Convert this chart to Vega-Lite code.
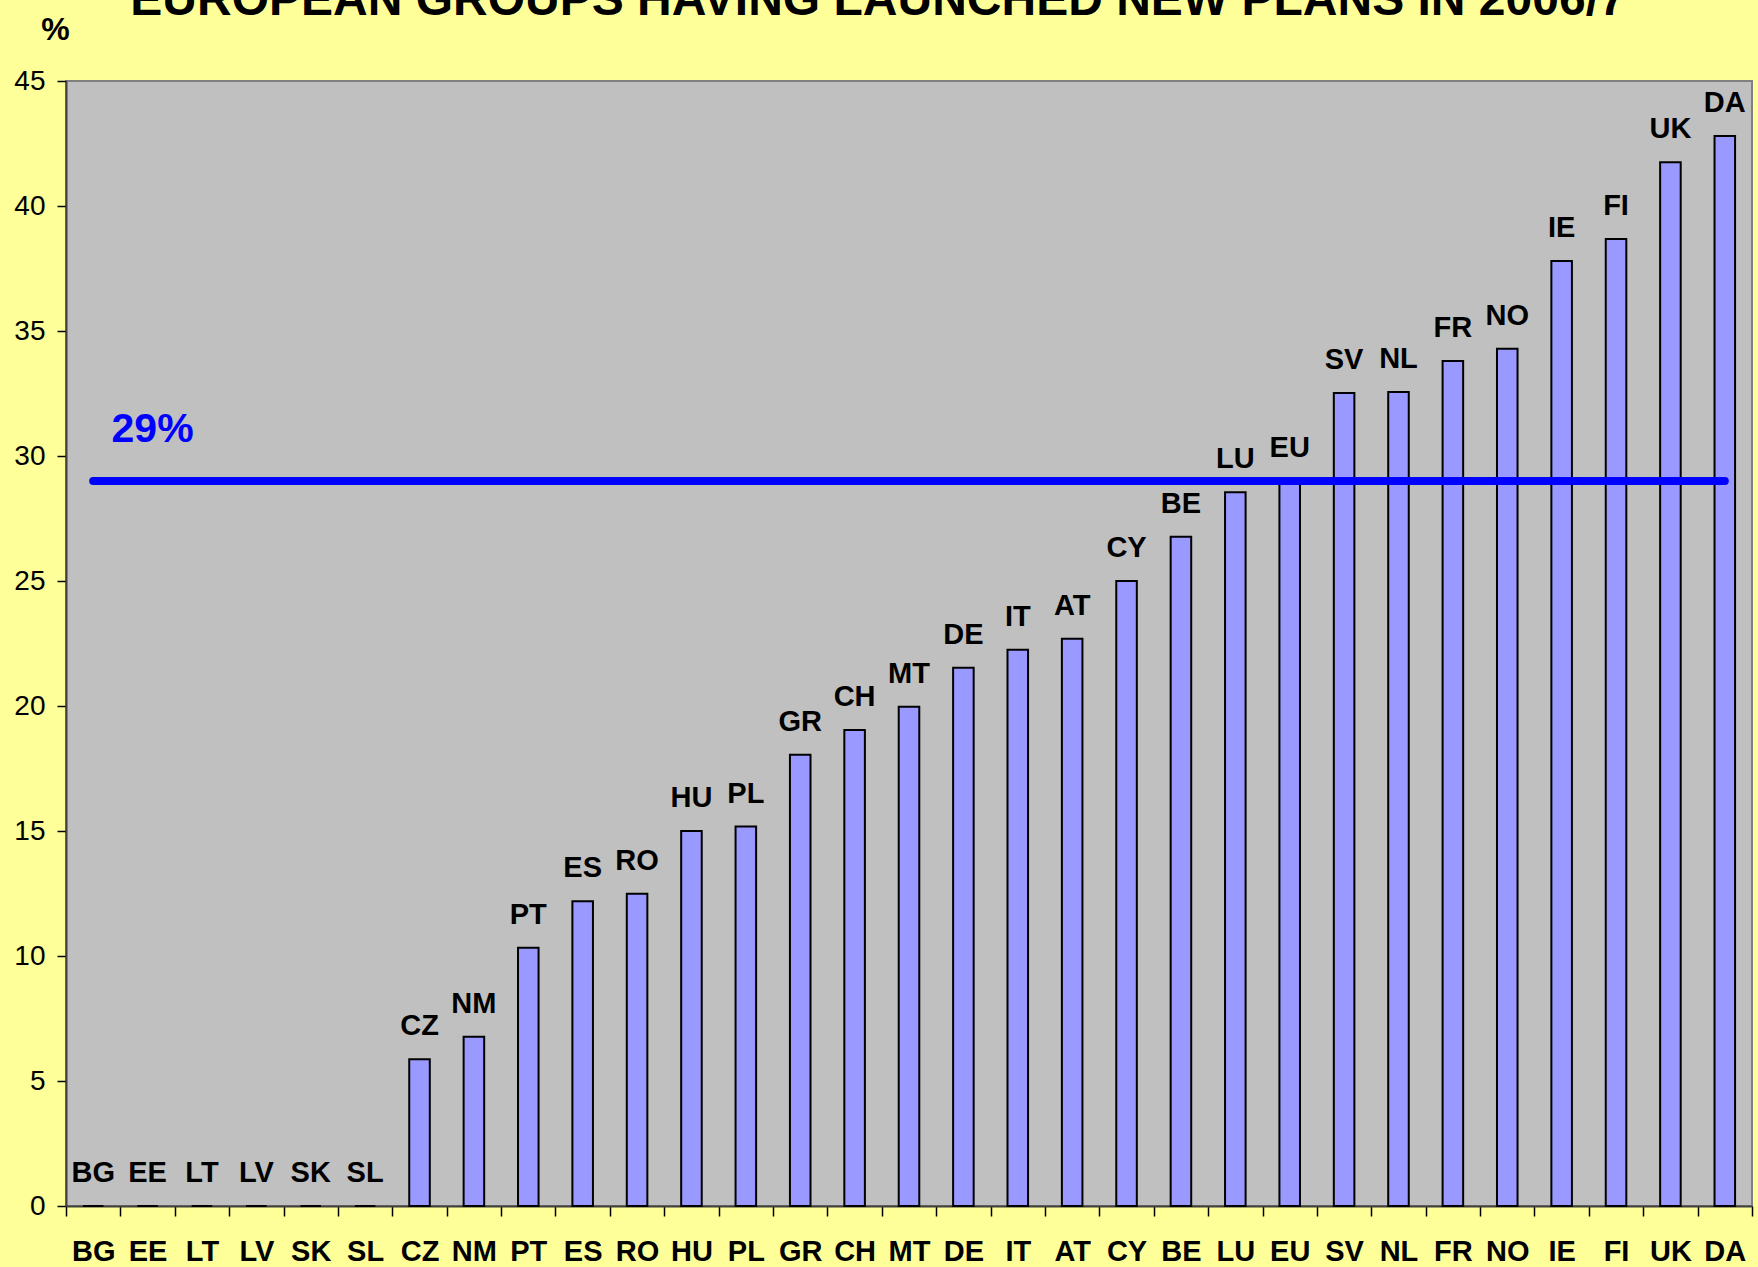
{
  "$schema": "https://vega.github.io/schema/vega-lite/v6.json",
  "width": 1686,
  "height": 1125,
  "autosize": {"type": "none"},
  "padding": {"left": 66, "top": 81, "right": 6, "bottom": 61},
  "background": "#FFFF99",
  "title": {
    "text": "EUROPEAN GROUPS HAVING LAUNCHED NEW PLANS IN 2006/7",
    "font": "Liberation Sans",
    "fontSize": 48,
    "fontWeight": "bold",
    "color": "#000000",
    "anchor": "middle",
    "frame": "group",
    "baseline": "alphabetic",
    "offset": 0,
    "dy": 50,
    "dx": -31
  },
  "datasets": {
    "bars": [
      {"country": "BG", "value": 0},
      {"country": "EE", "value": 0},
      {"country": "LT", "value": 0},
      {"country": "LV", "value": 0},
      {"country": "SK", "value": 0},
      {"country": "SL", "value": 0},
      {"country": "CZ", "value": 5.87},
      {"country": "NM", "value": 6.77},
      {"country": "PT", "value": 10.33},
      {"country": "ES", "value": 12.19},
      {"country": "RO", "value": 12.49},
      {"country": "HU", "value": 15.0},
      {"country": "PL", "value": 15.18},
      {"country": "GR", "value": 18.05},
      {"country": "CH", "value": 19.04},
      {"country": "MT", "value": 19.97},
      {"country": "DE", "value": 21.53},
      {"country": "IT", "value": 22.25},
      {"country": "AT", "value": 22.69},
      {"country": "CY", "value": 25.0},
      {"country": "BE", "value": 26.77},
      {"country": "LU", "value": 28.55},
      {"country": "EU", "value": 29.0},
      {"country": "SV", "value": 32.52},
      {"country": "NL", "value": 32.56},
      {"country": "FR", "value": 33.8},
      {"country": "NO", "value": 34.29},
      {"country": "IE", "value": 37.8},
      {"country": "FI", "value": 38.68},
      {"country": "UK", "value": 41.75},
      {"country": "DA", "value": 42.8}
    ],
    "avg": [
      {"country": "BG", "value": 29},
      {"country": "DA", "value": 29}
    ],
    "avglabel": [
      {"country": "EE", "value": 29, "label": "29%"}
    ]
  },
  "encoding": {
    "x": {
      "field": "country",
      "type": "nominal",
      "sort": null,
      "scale": {"paddingInner": 0, "paddingOuter": 0},
      "axis": {
        "title": null,
        "labelFont": "Liberation Sans",
        "labelFontSize": 29,
        "labelFontWeight": "bold",
        "labelColor": "#000000",
        "labelAngle": 0,
        "labelBaseline": "alphabetic",
        "labelPadding": 44,
        "labelOverlap": false,
        "labelLimit": 0,
        "tickBand": "extent",
        "tickSize": 10,
        "tickColor": "#000000",
        "tickWidth": 1.5,
        "domainColor": "#404040",
        "domainWidth": 2
      }
    },
    "y": {
      "field": "value",
      "type": "quantitative",
      "scale": {"domain": [0, 45], "nice": false, "zero": true},
      "axis": {
        "title": "%",
        "titleAngle": 0,
        "titleX": -11,
        "titleY": -42,
        "titleAlign": "center",
        "titleBaseline": "alphabetic",
        "titleFont": "Liberation Sans",
        "titleFontSize": 32,
        "titleFontWeight": "bold",
        "titleColor": "#000000",
        "values": [0, 5, 10, 15, 20, 25, 30, 35, 40, 45],
        "labelFont": "Liberation Sans",
        "labelFontSize": 28,
        "labelColor": "#000000",
        "labelPadding": 12,
        "tickSize": 9,
        "tickColor": "#000000",
        "tickWidth": 1.5,
        "domainColor": "#404040",
        "domainWidth": 2,
        "grid": false
      }
    }
  },
  "layer": [
    {
      "data": {"name": "bars"},
      "mark": {"type": "bar", "width": {"band": 0.378}, "fill": "#9999FF", "stroke": "#000000", "strokeWidth": 2}
    },
    {
      "data": {"name": "avg"},
      "mark": {"type": "line", "color": "#0000FF", "strokeWidth": 8, "strokeCap": "round"}
    },
    {
      "data": {"name": "bars"},
      "mark": {"type": "text", "font": "Liberation Sans", "fontSize": 29, "fontWeight": "bold", "color": "#000000", "baseline": "alphabetic", "align": "center", "dy": -24},
      "encoding": {"text": {"field": "country"}}
    },
    {
      "data": {"name": "avglabel"},
      "mark": {"type": "text", "font": "Liberation Sans", "fontSize": 41, "fontWeight": "bold", "color": "#0000FF", "baseline": "alphabetic", "align": "center", "dy": -39, "dx": 5},
      "encoding": {"text": {"field": "label"}}
    }
  ],
  "config": {
    "view": {"fill": "#C0C0C0", "stroke": "#808080", "strokeWidth": 2}
  }
}
